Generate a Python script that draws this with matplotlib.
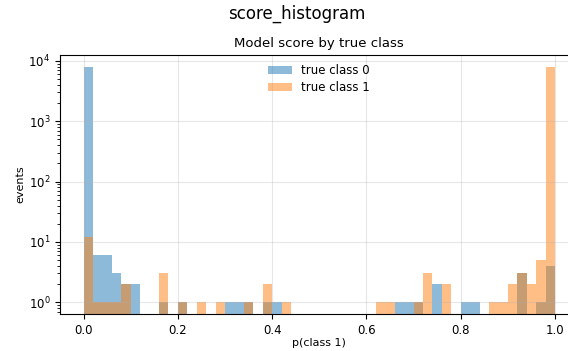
import numpy as np
import matplotlib
matplotlib.use("Agg")
import matplotlib.pyplot as plt

# ---------------------------------------------------------------------------
# Histogram counts (50 bins over [0, 1])
# ---------------------------------------------------------------------------
bin_edges = np.linspace(0.0, 1.0, 51)

# non-empty bins only: bin index -> count
class0_bins = {0: 8000, 1: 6, 2: 6, 3: 3, 4: 2, 5: 2, 8: 1, 10: 1, 15: 1,
               16: 1, 17: 1, 19: 1, 20: 1, 33: 1, 34: 1, 35: 1, 37: 2,
               40: 1, 41: 1, 46: 3, 48: 1, 49: 4}
class1_bins = {0: 12, 1: 1, 2: 1, 3: 1, 4: 2, 8: 3, 10: 1, 12: 1, 14: 1,
               17: 1, 19: 2, 21: 1, 31: 1, 32: 1, 35: 1, 36: 3, 38: 2,
               43: 1, 44: 1, 45: 2, 46: 3, 47: 2, 48: 5, 49: 7950}

labels = ["true class 0", "true class 1"]


def counts_from(bins: dict) -> np.ndarray:
    out = np.zeros(len(bin_edges) - 1)
    for k, v in bins.items():
        out[k] = v
    return out


def main() -> None:
    W, H = 568, 351
    fig = plt.figure(figsize=(W / 100, H / 100), dpi=100)
    # reference is a crop of a wider figure: axes runs past the right edge
    ax = fig.add_axes([60 / W, (H - 314) / H, 518.5 / W, 259 / H])

    centers = 0.5 * (bin_edges[:-1] + bin_edges[1:])
    for bins, lab in zip([class0_bins, class1_bins], labels):
        ax.hist(centers, bins=bin_edges, weights=counts_from(bins),
                alpha=0.5, log=True, label=lab)

    ax.set_title("Model score by true class", fontsize=9.5)
    ax.set_xlabel("p(class 1)", fontsize=8, labelpad=1)
    ax.set_ylabel("events", fontsize=8, labelpad=2)
    ax.tick_params(labelsize=8.5)
    ax.grid(alpha=0.3)
    ax.legend(loc="upper center", frameon=False, fontsize=8.5,
              labelspacing=0.34, borderaxespad=0.35)

    fig.text(297 / W, 1 - 14 / H, "score_histogram", ha="center",
             va="center", fontsize=12)
    fig.savefig("out.png", dpi=100)
    plt.close(fig)


if __name__ == "__main__":
    main()
